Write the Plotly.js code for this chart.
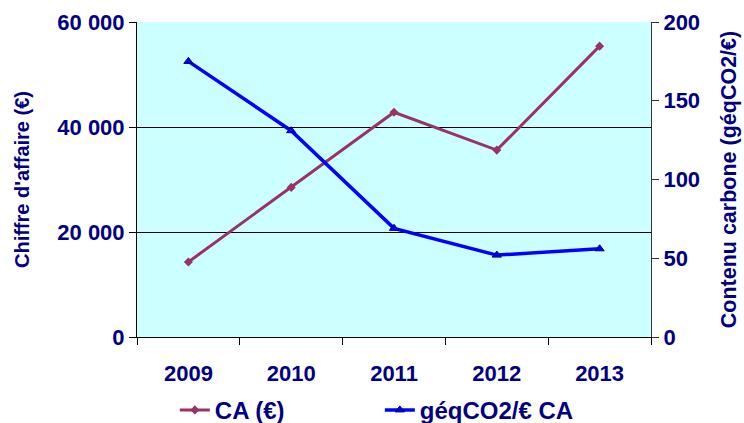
<!DOCTYPE html>
<html>
<head>
<meta charset="utf-8">
<script src="https://cdn.plot.ly/plotly-3.0.1.min.js"></script>
<style>
  body { margin: 0; background: #fff; }
  #chart { width: 744px; height: 423px; }
</style>
</head>
<body>
<div id="chart"></div>
<script>
const years = ['2009', '2010', '2011', '2012', '2013'];
const chiffreAffaire = [14300, 28500, 42800, 35600, 55400];
const contenuCarbone = [175, 131, 69, 52, 56];

const navy = '#000080';
const family = 'Arial, "Liberation Sans", sans-serif';
const tickFont = { family: family, size: 22, color: navy, weight: 'bold' };
const titleFont = { family: family, size: 20, color: navy, weight: 'bold' };
const rightTitleFont = { family: family, size: 21.5, color: navy, weight: 'bold' };
const legendFont = { family: family, size: 24, color: navy, weight: 'bold' };

const traceCA = {
    x: years,
    y: chiffreAffaire,
    type: 'scatter',
    mode: 'lines+markers',
    name: 'CA (€)',
    line: { color: '#993366', width: 3 },
    marker: { symbol: 'diamond', size: 7, color: '#993366' }
};

const traceCarbone = {
    x: years,
    y: contenuCarbone,
    yaxis: 'y2',
    type: 'scatter',
    mode: 'lines+markers',
    name: 'géqCO2/€ CA',
    line: { color: '#0000FF', width: 3.5 },
    marker: { symbol: 'triangle-up', size: 8, color: '#0000FF', line: { color: '#000080', width: 1 } }
};

const layout = {
    width: 744,
    height: 423,
    margin: { l: 137, r: 93, t: 22, b: 86, autoexpand: false },
    paper_bgcolor: '#ffffff',
    plot_bgcolor: '#CCFFFF',
    separators: ', ',
    font: tickFont,
    showlegend: true,
    legend: {
        orientation: 'h',
        xref: 'container', yref: 'container',
        x: 0.235, xanchor: 'left',
        y: 0.03, yanchor: 'middle',
        font: legendFont,
        entrywidth: 160,
        entrywidthmode: 'pixels'
    },
    xaxis: {
        type: 'category',
        range: [-0.5, 4.5],
        tickson: 'boundaries',
        ticks: 'outside',
        ticklen: 7,
        tickcolor: '#000',
        ticklabelstandoff: 17,
        showline: true,
        linecolor: '#000',
        linewidth: 1,
        showgrid: false,
        tickfont: tickFont
    },
    yaxis: {
        title: { text: "Chiffre d'affaire (€)", font: titleFont, standoff: 22 },
        range: [0, 60000],
        dtick: 20000,
        tickformat: ',',
        ticks: 'outside',
        ticklen: 7,
        tickcolor: '#000',
        showline: true,
        linecolor: '#000',
        gridcolor: '#000',
        gridwidth: 1,
        zeroline: false,
        tickfont: tickFont
    },
    yaxis2: {
        title: { text: 'Contenu carbone (géqCO2/€)', font: rightTitleFont, standoff: 21 },
        overlaying: 'y',
        side: 'right',
        range: [0, 200],
        dtick: 50,
        ticks: 'outside',
        ticklen: 7,
        tickcolor: '#333',
        showline: true,
        linecolor: '#333',
        showgrid: false,
        zeroline: false,
        tickfont: tickFont
    }
};

Plotly.newPlot('chart', [traceCA, traceCarbone], layout, { displayModeBar: false });
</script>
</body>
</html>
